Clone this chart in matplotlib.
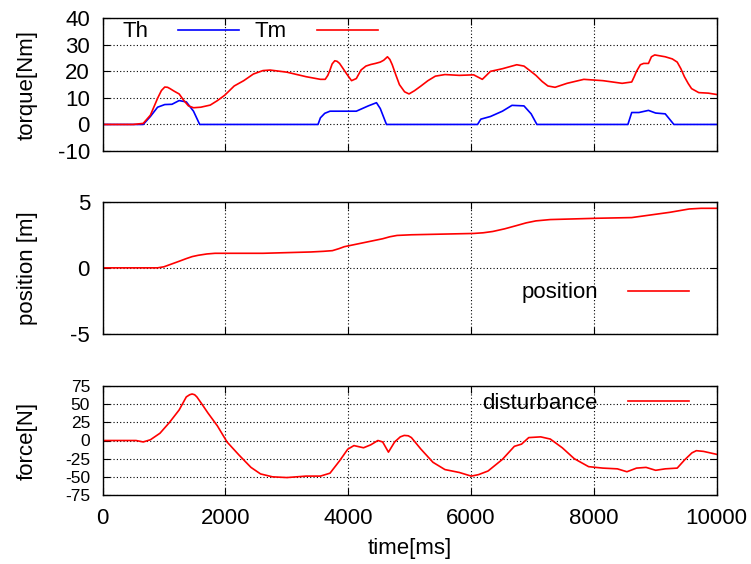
import numpy as np
import matplotlib.pyplot as plt

plt.rcParams['font.family'] = ['Liberation Sans', 'DejaVu Sans']
plt.rcParams['font.size'] = 16
plt.rcParams['axes.unicode_minus'] = False

# motor torque Tm [Nm]
tm_t = [0, 500, 663, 780, 900, 960, 1014, 1060, 1100, 1170, 1248, 1326, 1400, 1482, 1600, 1755, 1872, 1990,
        2145, 2300, 2457, 2613, 2730, 3003, 3315, 3549, 3627, 3670, 3705, 3740, 3783, 3820, 3861, 3920, 3978, 4056, 4134,
        4210, 4290, 4370, 4446, 4524, 4580, 4641, 4680, 4719, 4780, 4836, 4920, 4992, 5080, 5187, 5300, 5421, 5577, 5811, 6045, 6186, 6318,
        6513, 6747, 6864, 6960, 7059, 7160, 7254, 7371, 7566, 7839, 8151, 8463, 8619, 8660, 8697, 8760, 8814, 8892, 8940,
        8994, 9165, 9280, 9360, 9420, 9477, 9540, 9594, 9711, 9867, 10000]
tm_v = [0, 0, 0.4, 3.5, 10, 12.8, 14.1, 14.0, 13.5, 12.5, 11.5, 9, 7, 6.3, 6.5, 7.3, 9, 11,
        14.5, 16.5, 19, 20.3, 20.5, 19.7, 18, 17, 17, 18.5, 20.5, 22.8, 24, 23.8, 23, 21, 19, 16.5, 17.3,
        20.5, 22, 22.6, 23, 23.5, 24.2, 25.5, 24.5, 22.5, 18.5, 15, 12.3, 11.5, 12.7, 14.5, 16.5, 18.2, 18.8, 18.5, 18.7, 17.0, 20,
        21, 22.5, 22, 20.3, 18.5, 16.2, 14.5, 14, 15.5, 17, 16.5, 15.5, 16, 18, 20, 22.5, 23, 23, 25.5,
        26.2, 25.5, 24.7, 23.5, 21, 18, 15.4, 13.5, 12, 11.8, 11.3]

# human torque Th [Nm]
th_t = [0, 663, 780, 897, 1014, 1131, 1248, 1365, 1482, 1583, 3510, 3549, 3620, 3705, 3939, 4134,
        4329, 4462, 4524, 4625, 6108, 6162, 6318, 6513, 6669, 6864, 6981, 7075, 8557, 8619,
        8736, 8892, 9009, 9165, 9306, 10000]
th_v = [0, 0, 3, 6.5, 7.5, 7.6, 9, 8.5, 5, 0, 0, 2.5, 4.2, 5, 5, 5,
        7, 8.2, 6, 0, 0, 2, 3, 5, 7.2, 7, 4, 0, 0, 4.5,
        4.5, 5.3, 4.3, 4, 0, 0]

# position [m]
pos_t = [0, 897, 1000, 1131, 1250, 1365, 1460, 1560, 1700, 1833, 2613, 3393, 3600, 3744, 3850, 3939, 4251, 4563, 4680, 4797, 5031, 6045,
         6200, 6357, 6550, 6747, 6900, 7059, 7293, 8073, 8619, 8931, 9243, 9555, 9750, 10000]
pos_v = [0, 0, 0.08, 0.3, 0.5, 0.7, 0.85, 0.95, 1.05, 1.1, 1.1, 1.2, 1.25, 1.3, 1.45, 1.6, 1.9, 2.2, 2.35, 2.45, 2.5, 2.6,
         2.65, 2.75, 2.95, 3.2, 3.4, 3.55, 3.65, 3.75, 3.8, 4.0, 4.2, 4.45, 4.5, 4.5]

# disturbance force [N]
dist_t = [0, 546, 663, 780, 936, 1092, 1248, 1365, 1420, 1459, 1500, 1537, 1620, 1716, 1872, 2028, 2223, 2418,
          2574, 2769, 3003, 3315, 3549, 3705, 3861, 3994, 4095, 4251, 4368, 4485, 4563, 4657,
          4758, 4850, 4914, 4980, 5031, 5187, 5382, 5577, 5811, 6006, 6123, 6279, 6513, 6708, 6825, 6942,
          7137, 7293, 7488, 7683, 7917, 8151, 8385, 8541, 8697, 8853, 9009, 9165, 9360, 9477,
          9600, 9672, 9789, 10000]
dist_v = [0, 0, -2, 1, 10, 25, 42, 60, 63, 64, 63, 60, 50, 38, 20, -2, -20, -37,
          -46, -50, -51, -49, -49, -45, -28, -12, -7, -10, -6, 0, -2, -16,
          -2, 5, 7, 6.5, 4, -12, -30, -40, -44, -49, -47, -42, -26, -8, -5, 4,
          5, 2, -10, -25, -36, -38, -39, -43, -38, -37, -41, -39, -38, -27,
          -17, -14, -15, -19]

fig = plt.figure(figsize=(7.51, 5.64), dpi=100)
W, H = 751, 564
left, right = 102.5, 716.5

key = dict(frameon=False, markerfirst=False, handlelength=2.75, handletextpad=1.35,
           borderaxespad=0.0, borderpad=0.0)


def make_axes(top, bottom):
    ax = fig.add_axes([left / W, 1 - bottom / H, (right - left) / W, (bottom - top) / H])
    ax.set_xlim(0, 10000)
    ax.set_xticks(np.arange(0, 10001, 2000))
    ax.grid(True, color='black', linestyle=(0, (1, 2)), linewidth=0.8)
    ax.tick_params(direction='in', top=True, right=True, length=5, width=0.8, pad=9)
    for s in ax.spines.values():
        s.set_linewidth(1.0)
    return ax


ax1 = make_axes(18.3, 151)
ax1.plot(th_t, th_v, color='#0000ff', lw=1.2, label='Th')
ax1.plot(tm_t, tm_v, color='#ff0000', lw=1.2, label='Tm')
ax1.set_ylim(-10, 40)
ax1.set_yticks(np.arange(-10, 41, 10))
ax1.set_ylabel('torque[Nm]')
ax1.tick_params(labelbottom=False)
ax1.legend(loc='center left', bbox_to_anchor=(0.032, 0.897), ncol=2, columnspacing=0.7, **key)

ax2 = make_axes(201.7, 334)
ax2.plot(pos_t, pos_v, color='#ff0000', lw=1.2, label='position')
ax2.set_ylim(-5, 5)
ax2.set_yticks([-5, 0, 5])
ax2.set_ylabel('position [m]')
ax2.tick_params(labelbottom=False)
ax2.legend(loc='center right', bbox_to_anchor=(0.955, 0.31), **key)

ax3 = make_axes(386, 495)
ax3.plot(dist_t, dist_v, color='#ff0000', lw=1.2, label='disturbance')
ax3.set_ylim(-75, 75)
ax3.set_yticks(np.arange(-75, 76, 25))
ax3.tick_params(axis='y', labelsize=12.5)
ax3.set_ylabel('force[N]')
ax3.set_xlabel('time[ms]', labelpad=7)
ax3.legend(loc='center right', bbox_to_anchor=(0.955, 0.844), **key)

for ax in (ax1, ax2, ax3):
    ax.yaxis.set_label_coords(-0.105, 0.5)

fig.savefig('out.png', dpi=100)
